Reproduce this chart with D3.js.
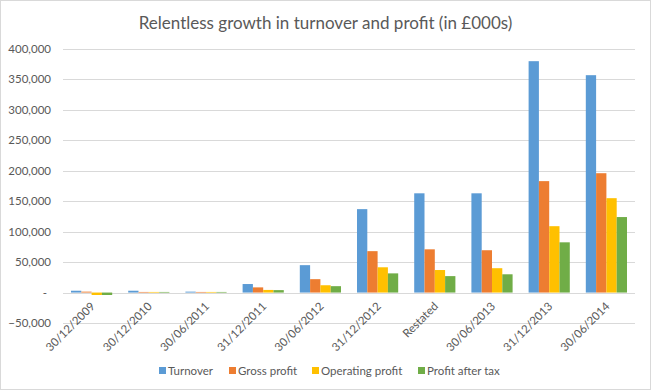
<!DOCTYPE html>
<html>
<head>
<meta charset="utf-8">
<script src="https://cdn.jsdelivr.net/npm/d3@7"></script>
<style>
  body { margin: 0; background: #fff; }
  text { font-family: Lato, 'Open Sans', sans-serif; fill: #595959; }
</style>
</head>
<body>
<div id="chart"></div>
<script>
// periods and the four series (in £000s)
const periods = ['30/12/2009', '30/12/2010', '30/06/2011', '31/12/2011', '30/06/2012',
  '31/12/2012', 'Restated', '30/06/2013', '31/12/2013', '30/06/2014']
const seriesNames = ['Turnover', 'Gross profit', 'Operating profit', 'Profit after tax']
const turnover = [3000, 3000, 1500, 14000, 45000, 137000, 163000, 163000, 380000, 357000]
const grossProfit = [1500, 1000, 1000, 8500, 22000, 68000, 71000, 69500, 183000, 196000]
const operatingProfit = [-4000, 1000, 1000, 4300, 12000, 41500, 37000, 40000, 109000, 155000]
const profitAfterTax = [-4000, 1000, 1000, 4000, 10500, 31500, 27000, 30000, 82500, 124000]
const colors = ['#5B9BD5', '#ED7D31', '#FFC000', '#70AD47']
const yTicks = [-50000, 0, 50000, 100000, 150000, 200000, 250000, 300000, 350000, 400000]

const W = 651
const H = 392
const margin = {top: 49, right: 16, bottom: 69, left: 63}

const allSeries = [turnover, grossProfit, operatingProfit, profitAfterTax]
const rows = periods.map((p, i) => ({period: p, values: allSeries.map(s => s[i])}))

const svg = d3.select('#chart')
  .append('svg')
  .attr('width', W)
  .attr('height', H)

// chart border
svg.append('rect')
  .attr('x', 0.5).attr('y', 0.5)
  .attr('width', W - 1).attr('height', H - 3)
  .attr('fill', 'none')
  .attr('stroke', '#d9d9d9')

const x = d3.scaleBand()
  .domain(periods)
  .range([margin.left, W - margin.right])
  .paddingInner(0.28)
  .paddingOuter(0.14)

const x1 = d3.scaleBand()
  .domain(seriesNames)
  .range([0, x.bandwidth()])

const y = d3.scaleLinear()
  .domain([-50000, 400000])
  .range([H - margin.bottom, margin.top])

// gridlines
svg.append('g')
  .selectAll('line')
  .data(yTicks)
  .enter()
  .append('line')
  .attr('x1', margin.left)
  .attr('x2', W - margin.right)
  .attr('y1', d => Math.round(y(d)) + 0.5)
  .attr('y2', d => Math.round(y(d)) + 0.5)
  .attr('stroke', '#d9d9d9')

// y labels
const fmt = d3.format(',')
svg.append('g')
  .selectAll('text')
  .data(yTicks)
  .enter()
  .append('text')
  .attr('x', d => d === 0 ? 47 : 51)
  .attr('y', d => y(d) + 4)
  .attr('text-anchor', 'end')
  .attr('font-size', '11.5px')
  .text(d => d === 0 ? '-' : fmt(d))

// bars
const groups = svg.append('g')
  .selectAll('g')
  .data(rows)
  .enter()
  .append('g')
  .attr('transform', d => 'translate(' + x(d.period) + ',0)')

groups.selectAll('rect')
  .data(d => d.values.map((v, k) => ({name: seriesNames[k], value: v, k: k})))
  .enter()
  .append('rect')
  .attr('x', d => x1(d.name))
  .attr('width', x1.bandwidth())
  .attr('y', d => y(Math.max(0, d.value)))
  .attr('height', d => Math.abs(y(d.value) - y(0)))
  .attr('fill', d => colors[d.k])

// x labels, rotated
svg.append('g')
  .selectAll('text')
  .data(periods)
  .enter()
  .append('text')
  .attr('transform', d => 'translate(' + (x(d) + x.bandwidth() / 2 + 4) + ',' + 307 + ') rotate(-45)')
  .attr('text-anchor', 'end')
  .attr('font-size', '11.5px')
  .text(d => d)

// title
svg.append('text')
  .attr('x', W / 2)
  .attr('y', 29)
  .attr('text-anchor', 'middle')
  .attr('font-size', '17px')
  .text('Relentless growth in turnover and profit (in £000s)')

// legend
const legendX = [159, 229, 312, 418]
const legend = svg.append('g')
  .selectAll('g')
  .data(seriesNames)
  .enter()
  .append('g')
  .attr('transform', (d, i) => 'translate(' + legendX[i] + ',367)')
legend.append('rect')
  .attr('width', 7).attr('height', 7)
  .attr('fill', (d, i) => colors[i])
legend.append('text')
  .attr('x', 9)
  .attr('y', 8)
  .attr('font-size', '11.5px')
  .text(d => d)
</script>
</body>
</html>
